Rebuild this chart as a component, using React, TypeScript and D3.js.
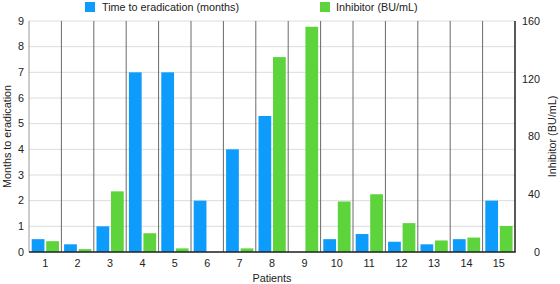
import React from "react";
import * as d3 from "d3";

const patients = ["1", "2", "3", "4", "5", "6", "7", "8", "9", "10", "11", "12", "13", "14", "15"];
const monthsToEradication = [0.5, 0.3, 1, 7, 7, 2, 4, 5.3, 0, 0.5, 0.7, 0.4, 0.3, 0.5, 2];
const inhibitorBU = [7.5, 2, 42, 13, 2.5, 0, 2.5, 135, 156, 35, 40, 20, 8, 10, 18];
const monthTicks = [0, 1, 2, 3, 4, 5, 6, 7, 8, 9];
const inhibitorTicks = [0, 40, 80, 120, 160];
const seriesNames = ["Time to eradication (months)", "Inhibitor (BU/mL)"];

const W = 560;
const H = 284;
const left = 29;
const right = 515;
const top = 21;
const bottom = 252;
const BLUE = "#0d9cfb";
const GREEN = "#5dd43b";
const FONT = "'Liberation Sans', Arial, Helvetica, sans-serif";
const FS = 10.8;

export default function App() {
  const x = d3.scaleBand<string>().domain(patients).range([left, right]).padding(0);
  const bw = x.bandwidth();
  const inner = d3
    .scaleBand<string>()
    .domain(["m", "i"])
    .range([bw * 0.083, bw * 0.925])
    .paddingInner(0.12);
  const yL = d3.scaleLinear().domain([0, 9]).range([bottom, top]);
  const yR = d3.scaleLinear().domain([0, 160]).range([bottom, top]);

  return (
    <svg
      width={W}
      height={H}
      style={{ position: "absolute", left: 0, top: 0, background: "#fff" }}
      fontFamily={FONT}
    >
      {/* horizontal gridlines */}
      {monthTicks.map((t) => (
        <line key={"g" + t} x1={left} x2={right} y1={yL(t)} y2={yL(t)} stroke="#dcdcdc" strokeWidth={1} />
      ))}
      {/* category separators */}
      {patients.map((p, i) => (
        <line
          key={"s" + p}
          x1={x(p)!}
          x2={x(p)!}
          y1={top}
          y2={bottom}
          stroke={i === 0 ? "#9a9a9a" : "#6a6a6a"}
          strokeWidth={1}
        />
      ))}
      {/* bars */}
      {patients.map((p, i) => (
        <g key={"b" + p} transform={`translate(${x(p)},0)`}>
          {monthsToEradication[i] > 0 && (
            <rect
              x={inner("m")}
              width={inner.bandwidth()}
              y={yL(monthsToEradication[i])}
              height={bottom - yL(monthsToEradication[i])}
              fill={BLUE}
            />
          )}
          {inhibitorBU[i] > 0 && (
            <rect
              x={inner("i")}
              width={inner.bandwidth()}
              y={yR(inhibitorBU[i])}
              height={bottom - yR(inhibitorBU[i])}
              fill={GREEN}
            />
          )}
        </g>
      ))}
      {/* axis lines */}
      <line x1={right} x2={right} y1={top} y2={bottom} stroke="#222" strokeWidth={1.5} />
      <line x1={left} x2={right + 0.75} y1={bottom} y2={bottom} stroke="#222" strokeWidth={1.5} />
      {/* left ticks */}
      {monthTicks.map((t) => (
        <text key={"l" + t} x={24} y={yL(t)} dy="0.35em" textAnchor="end" fontSize={FS} fill="#222">
          {t}
        </text>
      ))}
      {/* right ticks */}
      {inhibitorTicks.map((t) => (
        <text key={"r" + t} x={540} y={yR(t)} dy="0.35em" textAnchor="end" fontSize={FS} fill="#222">
          {t}
        </text>
      ))}
      {/* x ticks */}
      {patients.map((p) => (
        <text key={"x" + p} x={x(p)! + bw / 2} y={263} dy="0.35em" textAnchor="middle" fontSize={FS} fill="#222">
          {p}
        </text>
      ))}
      <text x={(left + right) / 2} y={278} dy="0.35em" textAnchor="middle" fontSize={FS} fill="#222">
        Patients
      </text>
      <text
        transform={`translate(7,${(top + bottom) / 2}) rotate(-90)`}
        textAnchor="middle"
        dy="0.35em"
        fontSize={FS}
        fill="#222"
      >
        Months to eradication
      </text>
      <text
        transform={`translate(552,${(top + bottom) / 2}) rotate(-90)`}
        textAnchor="middle"
        dy="0.35em"
        fontSize={FS}
        fill="#222"
      >
        Inhibitor (BU/mL)
      </text>
      {/* legend */}
      <rect x={85} y={2} width={10} height={10} fill={BLUE} />
      <text x={102} y={7} dy="0.35em" fontSize={FS} fill="#222">
        {seriesNames[0]}
      </text>
      <rect x={320} y={2} width={10} height={10} fill={GREEN} />
      <text x={336} y={7} dy="0.35em" fontSize={FS} fill="#222">
        {seriesNames[1]}
      </text>
    </svg>
  );
}
